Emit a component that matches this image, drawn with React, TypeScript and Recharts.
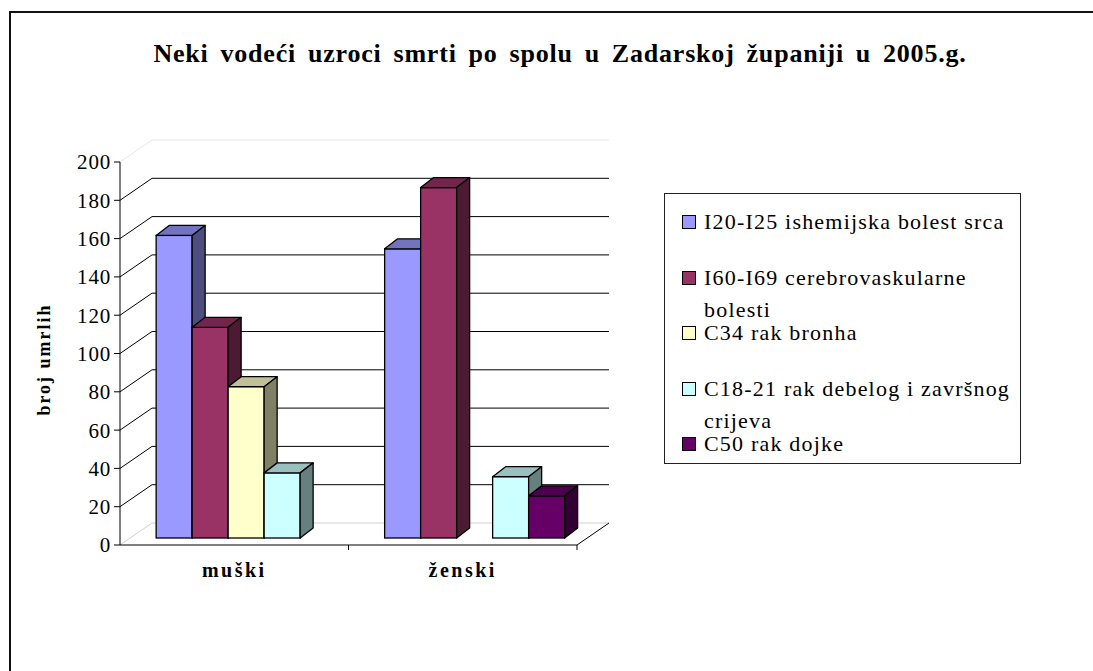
import React from 'react';
import { BarChart, Bar, XAxis, YAxis, CartesianGrid, Label } from 'recharts';

const categories = ['muški', 'ženski'];
const seriesNames = [
  'I20-I25 ishemijska bolest srca',
  'I60-I69 cerebrovaskularne bolesti',
  'C34 rak bronha',
  'C18-21 rak debelog i završnog crijeva',
  'C50 rak dojke',
];
const ishemijskaBolest = [158, 151];
const cerebrovaskularne = [110, 183];
const rakBronha = [79, null];
const rakDebelog = [34, 32];
const rakDojke = [null, 22];
const seriesValues = [ishemijskaBolest, cerebrovaskularne, rakBronha, rakDebelog, rakDojke];
const yTicks = [0, 20, 40, 60, 80, 100, 120, 140, 160, 180, 200];
const innerGridValues = [20, 40, 60, 80, 100, 120, 140, 160, 180];

const frontColors = ['#9999FF', '#993366', '#FFFFCC', '#CCFFFF', '#660066'];
const topColors = ['#7373BF', '#73264D', '#BFBF99', '#99BFBF', '#4D004D'];
const sideColors = ['#4D4D80', '#4D1A33', '#808066', '#668080', '#330033'];

const FONT = '"Liberation Serif", "Times New Roman", serif';
const WALL_DX = 32;
const WALL_DY = -22;
const FACE_DX = 11;
const FACE_DY = -7;
const DEPTH_DX = 13;
const DEPTH_DY = -10;

const data = categories.map((c, i) => {
  const row: any = { cat: c };
  seriesValues.forEach((s, k) => {
    row['s' + k] = s[i];
  });
  return row;
});

function Bar3D(p: any) {
  const { x, y, width, height, k } = p;
  if (x == null || y == null || !height || height <= 0) return null;
  const fx = x + FACE_DX;
  const fy = y + FACE_DY;
  const w = width;
  const h = height;
  const sw = 1.3;
  return (
    <g>
      <rect x={fx} y={fy} width={w} height={h} fill={frontColors[k]} stroke="#000" strokeWidth={sw} />
      <polygon
        points={`${fx},${fy} ${fx + DEPTH_DX},${fy + DEPTH_DY} ${fx + w + DEPTH_DX},${fy + DEPTH_DY} ${fx + w},${fy}`}
        fill={topColors[k]}
        stroke="#000"
        strokeWidth={sw}
        strokeLinejoin="round"
      />
      <polygon
        points={`${fx + w},${fy} ${fx + w + DEPTH_DX},${fy + DEPTH_DY} ${fx + w + DEPTH_DX},${fy + h + DEPTH_DY} ${fx + w},${fy + h}`}
        fill={sideColors[k]}
        stroke="#000"
        strokeWidth={sw}
        strokeLinejoin="round"
      />
    </g>
  );
}

function wallLine(color: string) {
  return (p: any) => {
    const { x1, y1, x2, index } = p;
    return (
      <path
        key={'wl-' + color + '-' + index}
        d={`M${x1},${y1} L${x1 + WALL_DX},${y1 + WALL_DY} L${x2 + WALL_DX},${y1 + WALL_DY}`}
        stroke={color}
        strokeWidth={1}
        fill="none"
      />
    );
  };
}

function floorLine(p: any) {
  const { x1, y1, x2, index } = p;
  return (
    <g key={'floor-' + index}>
      <path
        d={`M${x1},${y1} L${x1 + WALL_DX},${y1 + WALL_DY} L${x2 + WALL_DX},${y1 + WALL_DY}`}
        stroke="#d0d0d0"
        strokeWidth={1}
        fill="none"
      />
      <path d={`M${x2},${y1} L${x2 + WALL_DX},${y1 + WALL_DY}`} stroke="#000" strokeWidth={1} fill="none" />
    </g>
  );
}

function CatTick(p: any) {
  const { x, y, payload } = p;
  const off = payload && typeof payload.offset === 'number' ? payload.offset : 0;
  return (
    <g>
      {off > 0 && <line x1={x + off} y1={y} x2={x + off} y2={y + 5} stroke="#000" strokeWidth={1} />}
      <text
        x={x}
        y={y + 32}
        textAnchor="middle"
        fontFamily={FONT}
        fontWeight="bold"
        fontSize={20}
        letterSpacing={2.5}
        fill="#000"
      >
        {payload.value}
      </text>
    </g>
  );
}

function YTitle(p: any) {
  const vb = p.viewBox || { x: 20, y: 162, width: 100, height: 383 };
  const cx = vb.x + 30;
  const cy = vb.y + vb.height / 2 + 6;
  return (
    <text
      x={cx}
      y={cy}
      transform={`rotate(-90, ${cx}, ${cy})`}
      textAnchor="middle"
      fontFamily={FONT}
      fontWeight="bold"
      fontSize={18}
      letterSpacing={2}
      fill="#000"
    >
      broj umrlih
    </text>
  );
}

export default function App() {
  const legendTop = 193;
  return (
    <div style={{ position: 'fixed', left: 0, top: 0, width: 1093, height: 671, overflow: 'hidden', background: '#fff' }}>
      <div
        style={{
          position: 'absolute',
          left: 9,
          top: 11,
          width: 1200,
          height: 800,
          borderLeft: '2px solid #111',
          borderTop: '2px solid #111',
        }}
      />
      <div style={{ position: 'absolute', left: 0, top: 0 }}>
        <BarChart
          width={1093}
          height={671}
          data={data}
          margin={{ top: 162, right: 516, bottom: 86, left: 20 }}
          barCategoryGap="11%"
          barGap={0}
        >
          <CartesianGrid horizontalValues={[0]} vertical={false} horizontal={floorLine} stroke="#d0d0d0" />
          <CartesianGrid horizontalValues={[200]} vertical={false} horizontal={wallLine('#e6e6e6')} stroke="#e6e6e6" />
          <CartesianGrid horizontalValues={innerGridValues} vertical={false} horizontal={wallLine('#000')} stroke="#000" />
          <XAxis
            dataKey="cat"
            height={40}
            tickLine={false}
            tickSize={0}
            tickMargin={0}
            axisLine={{ stroke: '#000', strokeWidth: 1 }}
            tick={<CatTick />}
            interval={0}
          />
          <YAxis
            width={100}
            domain={[0, 200]}
            ticks={yTicks}
            interval={0}
            tickSize={6}
            tickMargin={3}
            tickLine={{ stroke: '#000' }}
            axisLine={{ stroke: '#000', strokeWidth: 1 }}
            tick={{ fontFamily: FONT, fontSize: 21, fill: '#000', letterSpacing: 0.8 }}
          >
            <Label content={<YTitle />} />
          </YAxis>
          {seriesNames.map((n, k) => (
            <Bar
              key={n}
              dataKey={'s' + k}
              name={n}
              fill={frontColors[k]}
              isAnimationActive={false}
              shape={(p: any) => <Bar3D {...p} k={k} />}
            />
          ))}
        </BarChart>
      </div>
      <svg style={{ position: 'absolute', left: 0, top: 0, pointerEvents: 'none' }} width={1093} height={100}>
        <text
          x={560}
          y={62}
          textAnchor="middle"
          fontFamily={FONT}
          fontWeight="bold"
          fontSize={26}
          letterSpacing={0.8}
          wordSpacing={4.6}
          fill="#000"
        >
          Neki vodeći uzroci smrti po spolu u Zadarskoj županiji u 2005.g.
        </text>
      </svg>
      <div
        style={{
          position: 'absolute',
          left: 664,
          top: legendTop,
          width: 357,
          height: 271,
          boxSizing: 'border-box',
          border: '1px solid #222',
          background: '#fff',
          fontFamily: FONT,
          fontSize: 22,
        }}
      >
        {seriesNames.map((n, k) => (
          <div key={n} style={{ position: 'absolute', left: 0, top: 12 + k * 55.5, width: 357 }}>
            <div
              style={{
                position: 'absolute',
                left: 17,
                top: 9,
                width: 12,
                height: 12,
                background: frontColors[k],
                border: '1px solid #000',
              }}
            />
            <div style={{ position: 'absolute', left: 39, top: 0, width: 312, lineHeight: '32px', letterSpacing: 1.2 }}>
              {n}
            </div>
          </div>
        ))}
      </div>
    </div>
  );
}
